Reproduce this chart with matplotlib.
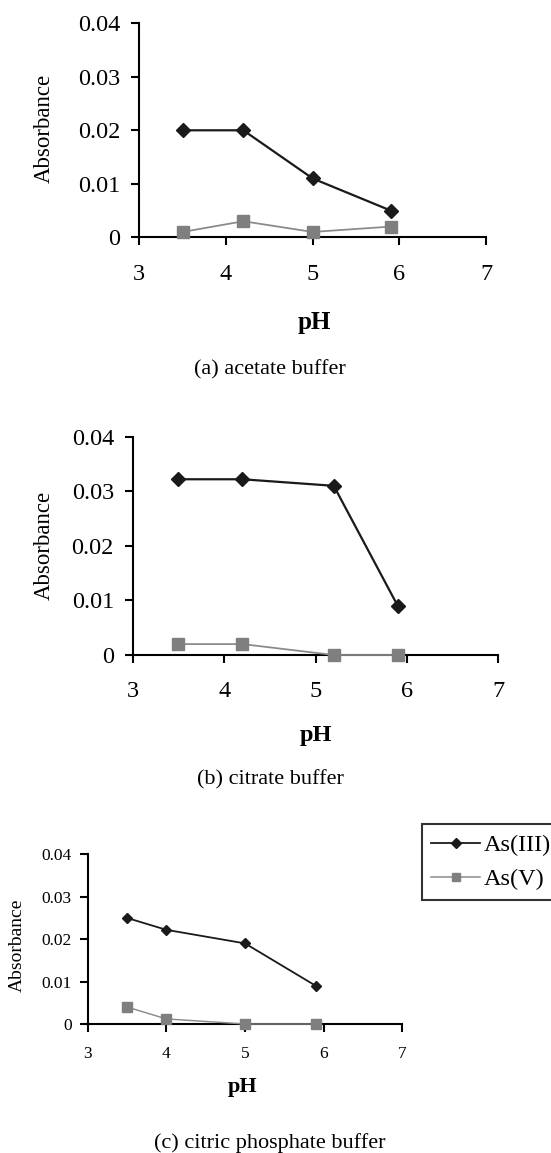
import numpy as np
import matplotlib
matplotlib.use("Agg")
import matplotlib.pyplot as plt
from matplotlib.lines import Line2D

plt.rcParams['font.family'] = ['Liberation Serif', 'DejaVu Serif']

# ---- data ----
ph_a = [3.5, 4.2, 5.0, 5.9]
as3_a = [0.020, 0.020, 0.011, 0.005]
as5_a = [0.001, 0.003, 0.001, 0.002]

ph_b = [3.5, 4.2, 5.2, 5.9]
as3_b = [0.0322, 0.0322, 0.031, 0.009]
as5_b = [0.002, 0.002, 0.0, 0.0]

ph_c = [3.5, 4.0, 5.0, 5.9]
as3_c = [0.025, 0.0222, 0.019, 0.009]
as5_c = [0.004, 0.0012, 0.0, 0.0]

yticks = [0, 0.01, 0.02, 0.03, 0.04]
ytick_labels = ['0', '0.01', '0.02', '0.03', '0.04']
xticks = [3, 4, 5, 6, 7]
captions = ['(a) acetate buffer', '(b) citrate buffer', '(c) citric phosphate buffer']
series_names = ['As(III)', 'As(V)']

W, H = 551, 1153
fig = plt.figure(figsize=(W / 100, H / 100), dpi=100)


def rect(l, r, t, b):
    return [l / W, 1 - b / H, (r - l) / W, (b - t) / H]


def panel(box, ph, y3, y5, tick_fs, pad_y, pad_x, ms_d, ms_s, lw):
    ax = fig.add_axes(rect(*box))
    ax.plot(ph, y3, color='#1a1a1a', lw=lw, marker='D', ms=ms_d,
            mfc='#1a1a1a', mec='#1a1a1a', clip_on=False, zorder=4)
    ax.plot(ph, y5, color='#8a8a8a', lw=lw * 0.8, marker='s', ms=ms_s,
            mfc='#7f7f7f', mec='#7f7f7f', clip_on=False, zorder=3)
    ax.set_xlim(3, 7)
    ax.set_ylim(0, 0.04)
    ax.set_xticks(xticks)
    ax.set_yticks(yticks)
    ax.set_yticklabels(ytick_labels)
    for s in ['top', 'right']:
        ax.spines[s].set_visible(False)
    for s in ['left', 'bottom']:
        ax.spines[s].set_linewidth(1.5)
    ax.tick_params(axis='y', direction='out', length=5.5, width=1.5,
                   labelsize=tick_fs, pad=pad_y)
    ax.tick_params(axis='x', direction='out', length=5.5, width=1.5,
                   labelsize=tick_fs, pad=pad_x)
    ax.patch.set_alpha(0)
    return ax


ax_a = panel((139.3, 486, 23.3, 237.3), ph_a, as3_a, as5_a, 17.5, 8, 13.5, 7, 8, 1.6)
ax_b = panel((132.7, 498.3, 436.7, 655), ph_b, as3_b, as5_b, 17.5, 8, 13.5, 7, 8, 1.6)
ax_c = panel((87.7, 402.3, 854.3, 1024), ph_c, as3_c, as5_c, 12.5, 6, 10, 5.5, 6.5, 1.3)

# y labels
fig.text(44 / W, 1 - 128 / H, 'Absorbance', rotation=90, ha='center', va='center', fontsize=16.5)
fig.text(44 / W, 1 - 545 / H, 'Absorbance', rotation=90, ha='center', va='center', fontsize=16.5)
fig.text(17.5 / W, 1 - 945 / H, 'Absorbance', rotation=90, ha='center', va='center', fontsize=14)

# x labels
fig.text(314 / W, 1 - 322 / H, 'pH', ha='center', va='center', fontsize=18, fontweight='bold')
fig.text(316 / W, 1 - 735 / H, 'pH', ha='center', va='center', fontsize=17.5, fontweight='bold')
fig.text(243 / W, 1 - 1087 / H, 'pH', ha='center', va='center', fontsize=16, fontweight='bold')

# captions
fig.text(270 / W, 1 - 370 / H, captions[0], ha='center', va='center', fontsize=16)
fig.text(270 / W, 1 - 780 / H, captions[1], ha='center', va='center', fontsize=16)
fig.text(270 / W, 1 - 1143 / H, captions[2], ha='center', va='center', fontsize=16)

handles = [
    Line2D([], [], color='#1a1a1a', lw=1.3, marker='D', ms=5, mfc='#1a1a1a', mec='#1a1a1a'),
    Line2D([], [], color='#8a8a8a', lw=1.1, marker='s', ms=6, mfc='#7f7f7f', mec='#7f7f7f'),
]
leg = fig.legend(handles, series_names, loc='upper left',
                 bbox_to_anchor=(421.7 / W, 1 - 824.3 / H), fontsize=17.5,
                 frameon=True, fancybox=False, edgecolor='black',
                 handlelength=2.0, handletextpad=0.15, borderpad=0.4,
                 labelspacing=0.5, borderaxespad=0)
leg.get_frame().set_linewidth(1.5)

fig.savefig('out.png', dpi=100)
